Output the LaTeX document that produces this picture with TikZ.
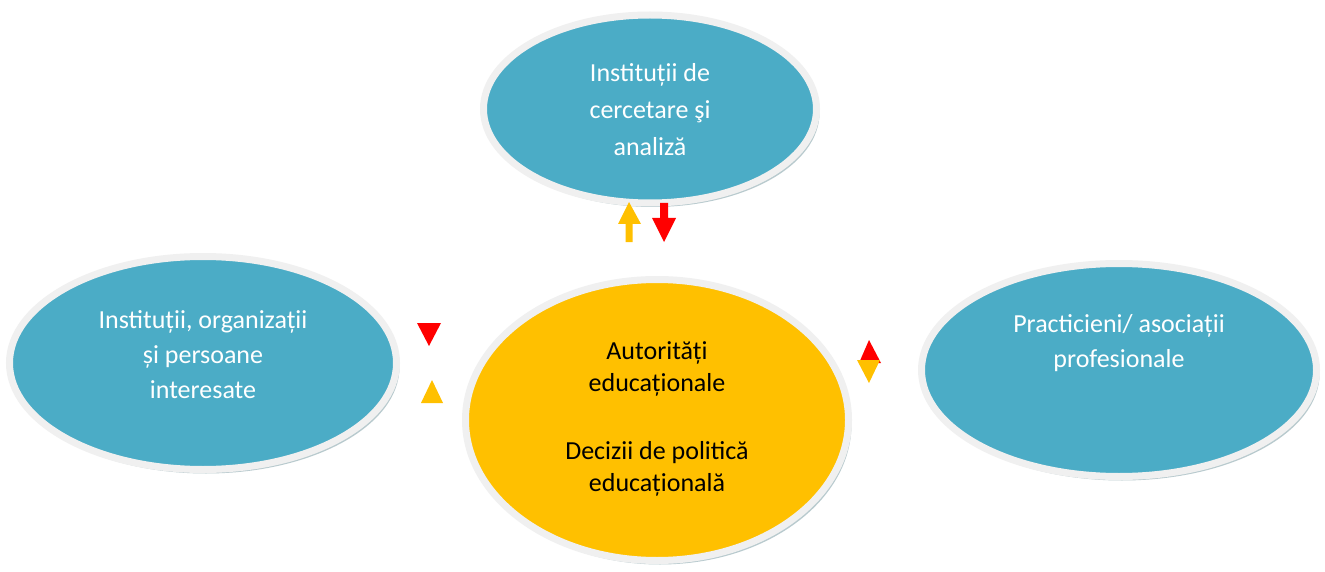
\documentclass[tikz,border=0pt]{standalone}
\usepackage{fontspec}
\setmainfont{Carlito}
\usetikzlibrary{shapes.geometric,shadows}
\definecolor{teal1}{HTML}{4BACC6}
\definecolor{gold1}{HTML}{FFC000}
\definecolor{rim}{HTML}{F0F0F0}
\definecolor{shade}{HTML}{7F9FA6}
\tikzset{
  oval/.style={ellipse, inner sep=0pt, draw=rim, line width=7pt,
    drop shadow={shadow xshift=3pt, shadow yshift=-4pt, fill=shade, opacity=0.55}},
  bluoval/.style={oval, fill=teal1},
  goldoval/.style={oval, fill=gold1},
  lbl/.style={align=center, font=\fontsize{26}{35}\selectfont, inner sep=0pt},
  whitelbl/.style={lbl, text=white},
  blacklbl/.style={lbl, text=black, font=\fontsize{26}{32}\selectfont},
}
\begin{document}
\begin{tikzpicture}[x=1pt,y=-1pt]
\useasboundingbox (0,0) rectangle (1325,572);
\fill[white] (0,0) rectangle (1325,572);

% ellipses
\node[bluoval, minimum width=333pt, minimum height=188pt] (top) at (650,109) {};
\node[bluoval, minimum width=387pt, minimum height=213pt] (left) at (203,363) {};
\node[bluoval, minimum width=395pt, minimum height=213pt] (right) at (1119,370) {};
\node[goldoval, minimum width=383pt, minimum height=281pt] (mid) at (657,420) {};

% texts
\node[whitelbl, font=\fontsize{26}{37}\selectfont] (toptxt) at (650,110) {Instituții de\\cercetare şi\\analiză};
\node[whitelbl] (lefttxt) at (203,355) {Instituții, organizații\\și persoane\\interesate};
\node[whitelbl] (righttxt) at (1119,343) {Practicieni/ asociații\\profesionale};
\node[blacklbl] (midtxt) at (657,419) {Autorități\\educaționale\\[36pt]Decizii de politică\\educațională};

% arrows between top and centre
\fill[gold1] (625.5,242) -- (625.5,224) -- (618,224) -- (629,202) -- (641,224) -- (632.5,224) -- (632.5,242) -- cycle;
\fill[red] (660,203) -- (660,218) -- (652,218) -- (664,242) -- (676,218) -- (668,218) -- (668,203) -- cycle;

% triangles between left and centre
\fill[red] (417,323) -- (441,323) -- (429,346) -- cycle;
\fill[gold1] (421,403) -- (443,403) -- (432,380) -- cycle;

% triangles between centre and right
\fill[red] (859,363) -- (881,363) -- (869,340) -- cycle;
\fill[gold1] (857,360) -- (880,360) -- (869,383) -- cycle;
\end{tikzpicture}
\end{document}
